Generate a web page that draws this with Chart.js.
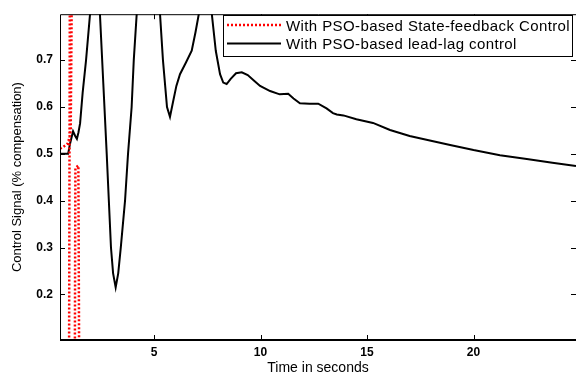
<!DOCTYPE html>
<html><head><meta charset="utf-8">
<script src="https://cdn.jsdelivr.net/npm/chart.js@4"></script>
<style>html,body{margin:0;padding:0;background:#fff}#wrap{width:576px;height:377px;position:relative}</style>
</head><body><div id="wrap"><canvas id="c" width="576" height="377"></canvas></div>
<script>
const seriesNames = ['With PSO-based State-feedback Control', 'With PSO-based lead-lag control'];
const xTitle = 'Time in seconds';
const yTitle = 'Control Signal (% compensation)';
const xTickValues = [5, 10, 15, 20];
const yTickValues = [0.2, 0.3, 0.4, 0.5, 0.6, 0.7];
const xRange = [0.587, 24.81];
const yRange = [0.1027, 0.798];

// State-feedback (red dotted)
const sfTime =   [0.587, 0.75, 0.95, 1.03, 1.09, 1.15, 1.05, 1.01, 1.28, 1.31, 1.45, 1.49];
const sfSignal = [0.511, 0.515, 0.522, 0.535, 0.55, 0.9, 0.85, 0.0, 0.0, 0.47, 0.475, 0.0];

// Lead-lag (black solid)
const llTime = [0.587, 0.97, 1.05, 1.2, 1.3, 1.38, 1.45, 1.53, 1.65, 1.81, 2.0, 2.12, 2.23, 2.35, 2.46,
  2.62, 2.78, 2.88, 2.98, 3.08, 3.2, 3.32, 3.44, 3.64, 3.78, 3.95, 4.05, 4.19, 4.45, 4.7, 4.95,
  5.28, 5.42, 5.61, 5.75, 5.89, 6.05, 6.22, 6.5, 6.77, 6.95, 7.11, 7.4, 7.71, 7.9, 8.1, 8.25, 8.41,
  8.6, 8.85, 9.12, 9.4, 9.7, 9.98, 10.45, 10.9, 11.3, 11.55, 11.85, 12.3, 12.71, 13.1, 13.4, 13.58,
  13.89, 14.5, 15.28, 16.08, 17.0, 18.0, 18.9, 20.0, 21.24, 22.5, 23.7, 24.81];
const llSignal = [0.5, 0.5, 0.52, 0.548, 0.538, 0.532, 0.545, 0.565, 0.63, 0.70, 0.80, 0.88, 0.90, 0.87, 0.80,
  0.65, 0.5, 0.4, 0.3, 0.245, 0.215, 0.245, 0.3, 0.4, 0.5, 0.6, 0.7, 0.8, 0.92, 0.96, 0.92,
  0.8, 0.7, 0.6, 0.579, 0.61, 0.645, 0.67, 0.695, 0.72, 0.76, 0.8, 0.85, 0.8, 0.72, 0.67, 0.652, 0.649,
  0.66, 0.672, 0.674, 0.668, 0.656, 0.645, 0.634, 0.627, 0.628, 0.618, 0.608, 0.607, 0.607, 0.597, 0.587, 0.584,
  0.582, 0.574, 0.566, 0.551, 0.538, 0.528, 0.519, 0.508, 0.497, 0.489, 0.481, 0.474];

const FONT = "'Liberation Sans', Arial, Helvetica, sans-serif";
const toPts = (t, v) => t.map((x, i) => ({x: x, y: v[i]}));

const framePlugin = {
  id: 'frame',
  afterDraw(chart) {
    const {ctx, chartArea: a, scales: {x, y}} = chart;
    ctx.save();
    ctx.strokeStyle = '#000';
    ctx.lineWidth = 1;
    ctx.beginPath();
    ctx.moveTo(a.left + 0.5, a.bottom); ctx.lineTo(a.left + 0.5, a.top + 0.5); ctx.lineTo(a.right, a.top + 0.5);
    ctx.stroke();
    ctx.lineWidth = 2;
    ctx.beginPath(); ctx.moveTo(a.left, a.bottom); ctx.lineTo(a.right, a.bottom); ctx.stroke();
    ctx.lineWidth = 1;
    const tl = 5;
    ctx.beginPath();
    x.ticks.forEach(t => {
      const p = Math.round(x.getPixelForValue(t.value)) + 0.5;
      ctx.moveTo(p, a.bottom); ctx.lineTo(p, a.bottom - tl);
      ctx.moveTo(p, a.top); ctx.lineTo(p, a.top + tl);
    });
    y.ticks.forEach(t => {
      const p = Math.round(y.getPixelForValue(t.value)) + 0.5;
      ctx.moveTo(a.left, p); ctx.lineTo(a.left + tl, p);
      ctx.moveTo(a.right, p); ctx.lineTo(a.right - tl, p);
    });
    ctx.stroke();
    // legend
    const bx = 223.5, by = 15.5, bw = 349, bh = 41;
    ctx.fillStyle = '#fff';
    ctx.fillRect(bx, by, bw, bh);
    ctx.lineWidth = 1;
    ctx.strokeRect(bx, by, bw, bh);
    const rows = [25, 43.5];
    chart.data.datasets.forEach((ds, i) => {
      ctx.save();
      ctx.strokeStyle = ds.borderColor;
      ctx.lineWidth = ds.borderWidth;
      ctx.setLineDash(ds.borderDash || []);
      ctx.beginPath(); ctx.moveTo(227, rows[i]); ctx.lineTo(281, rows[i]); ctx.stroke();
      ctx.restore();
      ctx.save();
      ctx.fillStyle = '#000';
      ctx.font = '15px ' + FONT;
      try { ctx.letterSpacing = '0.4px'; } catch (e) {}
      ctx.textBaseline = 'middle';
      ctx.textAlign = 'left';
      ctx.fillText(ds.label, 286, rows[i] + 1.5);
      ctx.restore();
    });
    ctx.restore();
  }
};

new Chart(document.getElementById('c'), {
  type: 'line',
  data: {
    datasets: [
      {label: seriesNames[0], data: toPts(sfTime, sfSignal), borderColor: '#ff0000', borderWidth: 2.5,
       borderDash: [2, 2], pointRadius: 0, tension: 0, fill: false, clip: 0},
      {label: seriesNames[1], data: toPts(llTime, llSignal), borderColor: '#000000', borderWidth: 2,
       pointRadius: 0, tension: 0, fill: false, clip: 0}
    ]
  },
  options: {
    responsive: false,
    animation: false,
    devicePixelRatio: 1,
    layout: {padding: {top: 9, right: 0, bottom: 0, left: 0}},
    plugins: {legend: {display: false}, tooltip: {enabled: false}},
    scales: {
      x: {
        type: 'linear', min: xRange[0], max: xRange[1],
        afterBuildTicks: s => { s.ticks = xTickValues.map(v => ({value: v})); },
        afterFit: s => { s.height = 37; },
        grid: {display: false, drawTicks: false}, border: {display: false},
        ticks: {color: '#000', font: {family: FONT, size: 12, weight: 'bold'}, padding: 5, maxRotation: 0, autoSkip: false,
          callback: v => String(v)},
        title: {display: true, text: xTitle, color: '#000', font: {family: FONT, size: 14}, padding: {top: 0, bottom: 0}}
      },
      y: {
        type: 'linear', min: yRange[0], max: yRange[1],
        afterBuildTicks: s => { s.ticks = yTickValues.map(v => ({value: v})); },
        afterFit: s => { s.width = 60; },
        grid: {display: false, drawTicks: false}, border: {display: false},
        ticks: {color: '#000', font: {family: FONT, size: 12, weight: 'bold'}, padding: 7, autoSkip: false,
          callback: v => Number(v).toFixed(1)},
        title: {display: true, text: yTitle, color: '#000', font: {family: FONT, size: 13}, padding: {top: 10, bottom: 0}}
      }
    }
  },
  plugins: [framePlugin]
});
</script></body></html>
